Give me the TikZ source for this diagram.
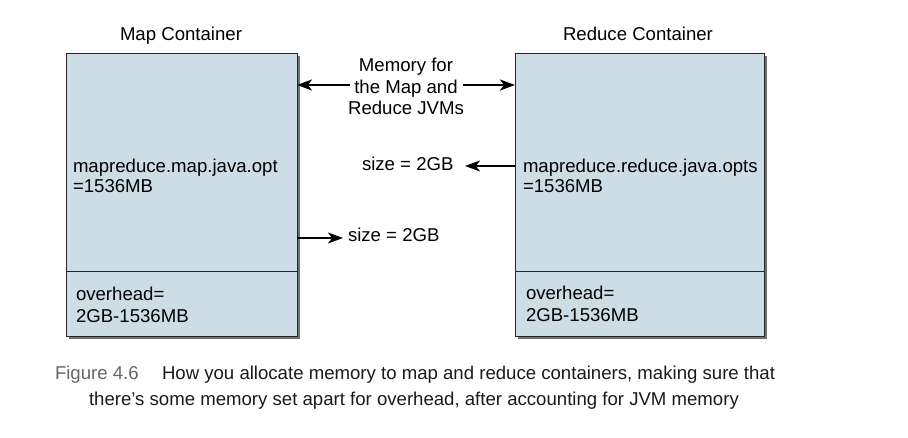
\documentclass[tikz,border=0pt]{standalone}
\usepackage{fontspec}
\setmainfont{Liberation Sans}
\newfontfamily\capfont{Liberation Sans}
\usetikzlibrary{shadows,arrows.meta}
\definecolor{boxfill}{HTML}{CCDDE5}
\definecolor{capgray}{HTML}{666666}
\definecolor{captext}{HTML}{1A1A1A}
\begin{document}
\begin{tikzpicture}[x=1pt,y=1pt,
  every node/.style={inner sep=0pt,outer sep=0pt},
  lbl/.style={font=\fontsize{18.6}{20}\selectfont,align=left},
  container/.style={draw=black!85,line width=1pt,fill=boxfill,
    drop shadow={shadow xshift=2.5pt,shadow yshift=-2.5pt,opacity=0.75,fill=black!75}},
  arr/.style={line width=1.8pt,-{Stealth[length=15pt,width=11pt,inset=4pt]}},
  captxt/.style={font=\capfont\fontsize{18.6}{20}\selectfont,anchor=base west}]
\useasboundingbox (0,0) rectangle (908,-438);
% containers
\node[container,minimum width=231pt,minimum height=283pt] (mapbox) at (181.5,-195.5) {};
\node[container,minimum width=249pt,minimum height=283pt] (redbox) at (639.5,-195.5) {};
\coordinate (mapdiv) at (66,-272);
\coordinate (reddiv) at (515,-272);
\draw[black!85,line width=1pt] (mapdiv) -- (mapdiv -| mapbox.east);
\draw[black!85,line width=1pt] (reddiv) -- (reddiv -| redbox.east);
% titles
\node[lbl,anchor=base] (maptitle) at (181,-41) {Map Container};
\node[lbl,anchor=base] (redtitle) at (638,-41) {Reduce Container};
% box texts (base anchor = last line)
\node[lbl,anchor=base west] (mapopt) at (73,-193) {mapreduce.map.java.opt\\=1536MB};
\node[lbl,anchor=base west] (mapover) at (76,-323) {overhead=\\[2.5pt]2GB-1536MB};
\node[lbl,anchor=base west] (redopt) at (523,-193) {mapreduce.reduce.java.opts\\=1536MB};
\node[lbl,anchor=base west] (redover) at (526,-322) {overhead=\\[2.5pt]2GB-1536MB};
% memory label and arrows
\node[lbl,align=center,anchor=base,font=\fontsize{18.6}{21.5}\selectfont] (mem) at (406,-115) {Memory for\\the Map and\\Reduce JVMs};
\coordinate (memL) at (350,-85);
\coordinate (memR) at (463,-85);
\draw[arr] (memL) -- (memL -| mapbox.east);
\draw[arr] (memR) -- (memR -| redbox.west);
% size labels
\node[lbl,anchor=base west] (sizeA) at (362,-171) {size = 2GB};
\node[lbl,anchor=base west] (sizeB) at (348,-242) {size = 2GB};
\coordinate (sizeAtip) at (465,-166);
\coordinate (sizeBtip) at (343,-238);
\draw[arr] (sizeAtip -| redbox.west) -- (sizeAtip);
\draw[arr] (sizeBtip -| mapbox.east) -- (sizeBtip);
% caption
\node[captxt,text=capgray] (fig) at (55,-380) {Figure 4.6};
\node[captxt,text=captext] (cap1) at (162,-380) {How you allocate memory to map and reduce containers, making sure that};
\node[captxt,text=captext] (cap2) at (89,-405) {there’s some memory set apart for overhead, after accounting for JVM memory};
\end{tikzpicture}
\end{document}
